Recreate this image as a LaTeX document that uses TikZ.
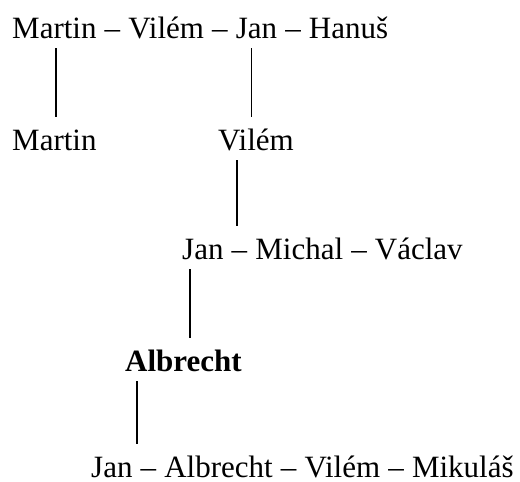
\documentclass[tikz,border=0pt]{standalone}
\usepackage{fontspec}
\setmainfont{Liberation Serif}
\usetikzlibrary{positioning}

\tikzset{
    person/.style = {inner sep=0pt, text height=20.5pt, text depth=10pt},
    kin/.style = {line width=1.4pt, shorten >=12pt}
}

\begin{document}
\begin{tikzpicture}[x=1pt, y=-1pt, node distance=7.75pt,
    font=\fontsize{31}{37}\selectfont]
    \useasboundingbox (0,0) rectangle (520,482);
    % first row
    \node [person, anchor=base west] (martinA) at (12,38) {Martin};
    \node [person, base right=of martinA] (d1) {–};
    \node [person, base right=of d1] (vilemA) {Vilém};
    \node [person, base right=of vilemA] (d2) {–};
    \node [person, base right=of d2] (janA) {Jan};
    \node [person, base right=of janA] (d3) {–};
    \node [person, base right=of d3] (hanus) {Hanuš};
    % second row
    \node [person, anchor=base west] (martinB) at (12,150) {Martin};
    \node [person, anchor=base west] (vilemB) at (218,150) {Vilém};
    % third row
    \node [person, anchor=base west] (janC) at (182,259) {Jan};
    \node [person, base right=of janC] (d4) {–};
    \node [person, base right=of d4] (michal) {Michal};
    \node [person, base right=of michal] (d5) {–};
    \node [person, base right=of d5] (vaclav) {Václav};
    % fourth row
    \node [person, anchor=base west, font=\fontsize{31}{37}\selectfont\bfseries] (albrecht) at (125,371) {Albrecht};
    % fifth row
    \node [person, anchor=base west] (janE) at (91,477) {Jan};
    \node [person, base right=of janE] (d6) {–};
    \node [person, base right=of d6] (albrechtE) {Albrecht};
    \node [person, base right=of albrechtE] (d7) {–};
    \node [person, base right=of d7] (vilemE) {Vilém};
    \node [person, base right=of vilemE] (d8) {–};
    \node [person, base right=of d8] (mikulas) {Mikuláš};

    \draw [kin] ([xshift=1.5pt]martinA.south) -- ([xshift=1.5pt]martinA.south |- martinB.north);
    \draw [kin] ([xshift=-5pt]janA.south) -- ([xshift=-5pt]janA.south |- vilemB.north);
    \draw [kin] ([xshift=-19pt]vilemB.south) -- ([xshift=-19pt]vilemB.south |- janC.north);
    \draw [kin] ([xshift=-13pt]janC.south) -- ([xshift=-13pt]janC.south |- albrecht.north);
    \draw [kin] ([xshift=12pt]albrecht.south west) -- ([xshift=12pt]albrecht.south west |- janE.north);
\end{tikzpicture}
\end{document}
